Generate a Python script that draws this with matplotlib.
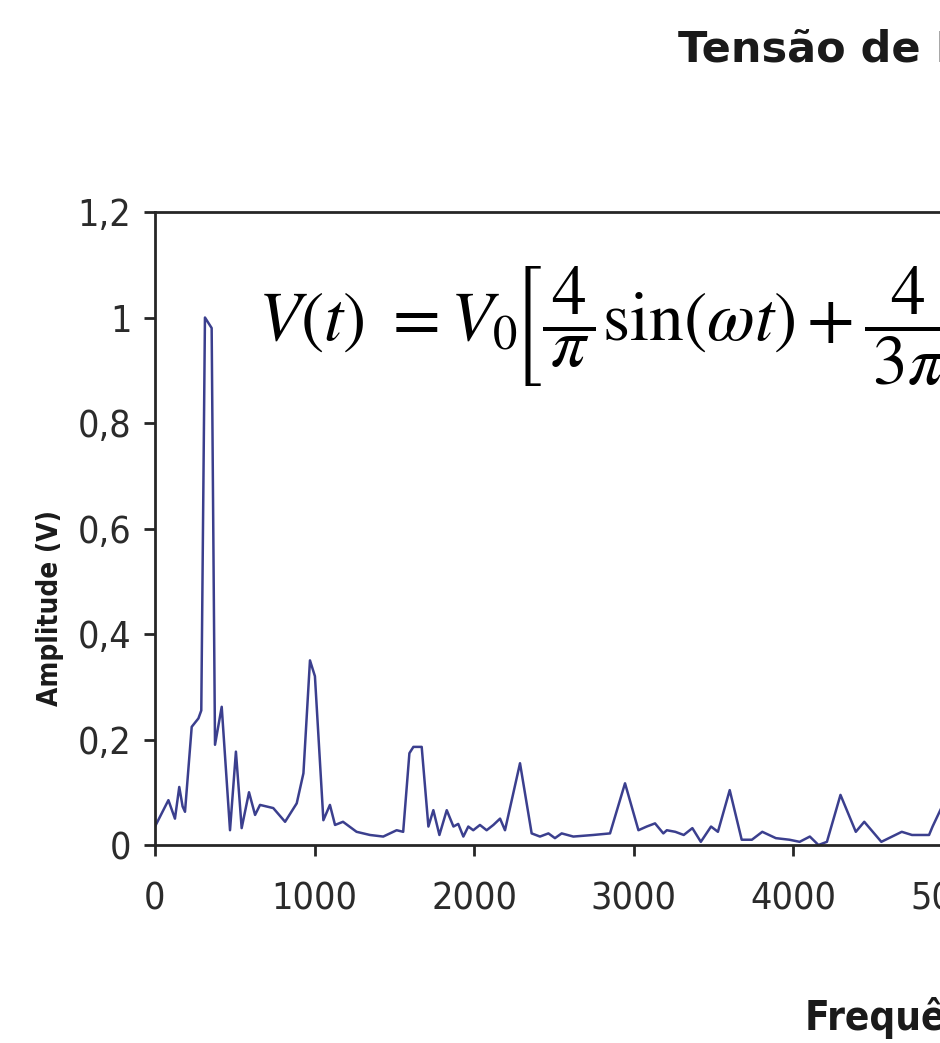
import numpy as np
import matplotlib
matplotlib.use("AGG")
import matplotlib.pyplot as plt

plt.rcParams['mathtext.fontset'] = 'stix'
narrow = ['Liberation Sans Narrow', 'DejaVu Sans']

# espectro (Hz, V)
freq = [0, 84, 125, 152, 173, 188, 230, 272, 290, 313, 355, 376, 418, 470, 507,
        543, 589, 627, 658, 741, 815, 888, 930, 971, 1002, 1055, 1096, 1128, 1178,
        1263, 1347, 1430, 1514, 1555, 1594, 1619, 1671, 1713, 1744, 1782, 1828,
        1870, 1900, 1932, 1963, 1994, 2036, 2078, 2120, 2162, 2193, 2287, 2360,
        2412, 2465, 2506, 2548, 2621, 2746, 2851, 2945, 3029, 3081, 3133, 3185,
        3207, 3260, 3313, 3367, 3420, 3484, 3527, 3601, 3676, 3740, 3805, 3890,
        3975, 4039, 4103, 4157, 4210, 4295, 4391, 4444, 4551, 4679, 4743, 4850,
        4872, 4950]
amp = [0.035, 0.085, 0.05, 0.11, 0.073, 0.063, 0.224, 0.24, 0.255, 1.0, 0.98,
       0.19, 0.262, 0.028, 0.177, 0.032, 0.10, 0.057, 0.076, 0.07, 0.044, 0.079,
       0.136, 0.35, 0.32, 0.047, 0.076, 0.038, 0.044, 0.025, 0.019, 0.016, 0.028,
       0.025, 0.174, 0.186, 0.186, 0.035, 0.066, 0.019, 0.066, 0.035, 0.04,
       0.016, 0.035, 0.028, 0.038, 0.028, 0.038, 0.05, 0.028, 0.155, 0.022,
       0.016, 0.022, 0.013, 0.022, 0.016, 0.019, 0.022, 0.117, 0.028, 0.035,
       0.041, 0.022, 0.028, 0.025, 0.019, 0.032, 0.006, 0.035, 0.025, 0.104,
       0.01, 0.01, 0.025, 0.013, 0.01, 0.006, 0.016, 0.0, 0.006, 0.095, 0.025,
       0.044, 0.006, 0.025, 0.019, 0.019, 0.035, 0.085]

xticks = [0, 1000, 2000, 3000, 4000, 5000, 6000, 7000, 8000, 9000, 10000]
yticks = [0, 0.2, 0.4, 0.6, 0.8, 1.0, 1.2]
ytick_labels = ['0', '0,2', '0,4', '0,6', '0,8', '1', '1,2']

W, H = 940, 1043
fig = plt.figure(figsize=(W/100, H/100), dpi=100)
# o eixo continua para alem da borda direita (imagem recortada)
ax = fig.add_axes([155/W, 1-845/H, 1596/W, (845-212)/H])

ax.plot(freq, amp, color='#3b3f8e', lw=1.8)
ax.set_xlim(0, 10000)
ax.set_ylim(0, 1.2)

ax.set_xticks(xticks)
ax.set_xticklabels([str(t) for t in xticks])
ax.set_yticks(yticks)
ax.set_yticklabels(ytick_labels)

for s in ['left', 'bottom', 'top', 'right']:
    ax.spines[s].set_linewidth(2.0)
    ax.spines[s].set_color('#262626')

ax.tick_params(direction='out', length=8, width=2, color='#262626')
ax.tick_params(axis='x', pad=18)
ax.tick_params(axis='y', pad=9)
for lab in ax.get_xticklabels() + ax.get_yticklabels():
    lab.set_family(narrow)
    lab.set_stretch('condensed')
    lab.set_fontsize(27)
    lab.set_color('#2b2b2b')

fig.text(50/W, 1-608/H, 'Amplitude (V)', rotation=90, ha='center', va='center',
         family=narrow, stretch='condensed', fontweight='bold', fontsize=20,
         color='#1a1a1a')
fig.text(805/W, 1-1030/H, 'Frequência (Hz)', ha='left', va='baseline',
         family=narrow, stretch='condensed', fontweight='bold', fontsize=29,
         color='#1a1a1a')
fig.text(678/W, 1-62/H, 'Tensão de Entrada', ha='left', va='baseline',
         family='DejaVu Sans', fontweight='bold', fontsize=31, color='#1a1a1a')

formula = (r'$V(t)\ = V_0\!\left[\dfrac{4}{\,\pi\,}\sin(\omega t) + '
           r'\dfrac{4}{\,3\pi\,}\sin(3\omega t) + \dfrac{4}{\,5\pi\,}\sin(5\omega t) + \ldots\right]$')
fig.text(258/W, 1-340/H, formula, ha='left', va='baseline', fontsize=50, color='black')

plt.savefig('out.png', dpi=100)
